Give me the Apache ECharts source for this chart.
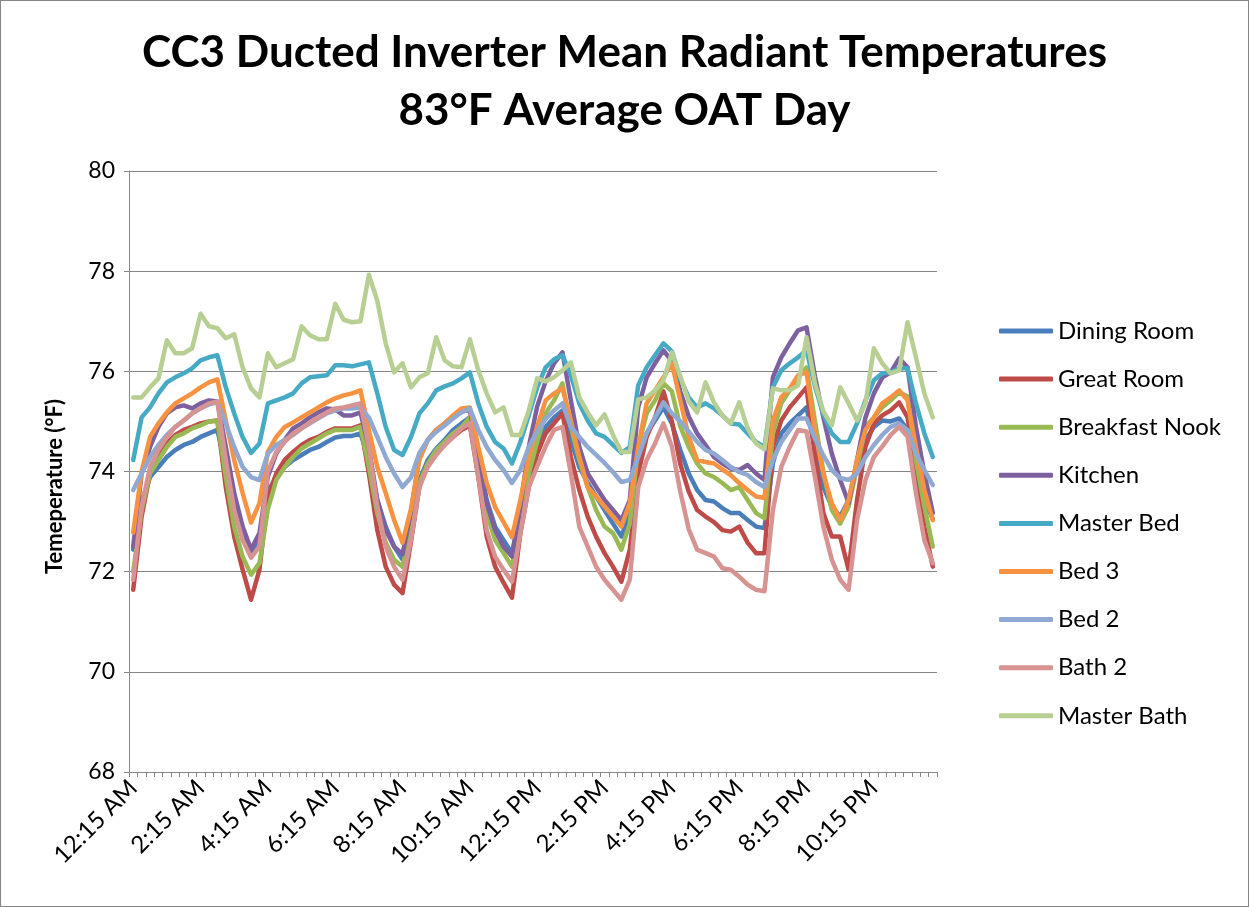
<!DOCTYPE html>
<html>
<head>
<meta charset="utf-8">
<script src="https://cdn.jsdelivr.net/npm/echarts@6/dist/echarts.min.js"></script>
<style>
  html, body { margin: 0; padding: 0; background: #fff; }
  #chart { width: 1249px; height: 907px; box-sizing: border-box; border: 1px solid #868686; }
</style>
</head>
<body>
<div id="chart"></div>
<script>
// 15 minute steps, 12:15 AM .. 12:00 AM
var times = [];
for (var m = 15; m <= 1440; m += 15) {
  var h = Math.floor(m / 60) % 24, mm = m % 60;
  var ap = h < 12 ? "AM" : "PM";
  var h12 = h % 12 === 0 ? 12 : h % 12;
  times.push(h12 + ":" + (mm < 10 ? "0" + mm : mm) + " " + ap);
}

var seriesNames = ["Dining Room", "Great Room", "Breakfast Nook", "Kitchen", "Master Bed", "Bed 3", "Bed 2", "Bath 2", "Master Bath"];

var diningRoom = [72.44,73.4,73.89,74.09,74.29,74.43,74.53,74.59,74.69,74.76,74.83,74.09,73.23,72.7,72.37,72.7,
  73.6,73.89,74.09,74.23,74.33,74.43,74.49,74.59,74.68,74.71,74.71,74.76,74.23,73.43,72.9,72.5,
  72.24,73.0,73.83,74.23,74.46,74.63,74.83,74.96,75.08,74.36,73.43,72.9,72.63,72.37,73.17,73.96,
  74.5,74.89,75.08,75.22,74.63,74.09,73.77,73.5,73.23,72.96,72.7,73.17,74.23,74.76,75.02,75.28,
  74.96,74.43,73.96,73.63,73.43,73.4,73.27,73.17,73.17,73.03,72.9,72.87,74.16,74.76,74.96,75.12,
  75.28,74.45,73.69,73.3,73.1,73.43,74.09,74.63,74.89,75.02,75.0,75.06,74.83,74.09,73.43,73.05];
var greatRoom = [71.64,73.1,73.96,74.29,74.56,74.73,74.83,74.89,74.96,75.0,75.02,73.69,72.7,72.04,71.44,72.04,
  73.5,73.96,74.23,74.39,74.53,74.63,74.69,74.79,74.86,74.86,74.86,74.92,73.96,72.83,72.1,71.74,
  71.57,72.6,73.69,74.16,74.36,74.53,74.69,74.83,74.92,73.89,72.7,72.1,71.78,71.48,72.77,73.69,
  74.35,74.76,74.96,75.16,74.29,73.63,73.1,72.7,72.37,72.1,71.8,72.44,73.96,74.69,75.08,75.6,
  75.0,74.15,73.6,73.23,73.1,72.99,72.83,72.8,72.9,72.58,72.37,72.37,74.49,75.02,75.28,75.48,
  75.68,74.3,73.17,72.7,72.7,72.04,73.43,74.49,74.96,75.12,75.22,75.38,75.08,73.96,72.9,72.1];
var breakfastNook = [72.0,73.23,73.96,74.23,74.49,74.69,74.76,74.86,74.92,75.0,75.02,73.89,72.9,72.3,71.94,72.17,
  73.25,73.83,74.09,74.29,74.46,74.56,74.66,74.76,74.83,74.83,74.83,74.89,74.09,73.17,72.58,72.24,
  72.1,72.85,73.77,74.16,74.43,74.59,74.76,74.89,75.08,74.23,73.17,72.63,72.37,72.1,73.03,73.96,
  74.6,75.16,75.42,75.76,74.89,74.23,73.69,73.23,72.9,72.77,72.44,72.96,74.49,75.16,75.42,75.76,
  75.6,74.9,74.49,74.16,73.96,73.89,73.77,73.63,73.69,73.43,73.17,73.07,74.76,75.36,75.62,75.88,
  76.08,75.0,74.0,73.23,72.96,73.3,74.09,74.89,75.08,75.28,75.42,75.58,75.5,74.23,73.3,72.5];
var kitchen = [72.5,73.96,74.49,74.89,75.16,75.28,75.32,75.26,75.36,75.42,75.4,74.49,73.57,72.9,72.44,72.77,
  73.9,74.36,74.63,74.86,74.96,75.08,75.18,75.26,75.24,75.12,75.12,75.18,74.49,73.43,72.83,72.5,
  72.35,73.2,74.29,74.63,74.83,74.96,75.08,75.22,75.22,74.29,73.37,72.83,72.5,72.3,73.3,74.49,
  75.3,75.8,76.16,76.38,75.42,74.49,73.96,73.69,73.43,73.23,73.03,73.43,75.28,75.88,76.16,76.42,
  76.2,75.6,75.1,74.76,74.53,74.29,74.16,74.06,74.03,74.13,73.96,73.83,75.88,76.28,76.56,76.82,
  76.88,75.9,75.08,74.36,73.83,73.37,74.23,75.08,75.56,75.88,75.98,76.26,76.08,74.89,73.96,73.17];
var masterBed = [74.23,75.08,75.28,75.56,75.78,75.88,75.96,76.06,76.22,76.28,76.32,75.68,75.16,74.69,74.37,74.56,
  75.36,75.42,75.48,75.56,75.76,75.88,75.9,75.92,76.12,76.12,76.1,76.14,76.18,75.56,74.89,74.43,
  74.33,74.69,75.16,75.36,75.62,75.7,75.76,75.86,75.98,75.36,74.89,74.59,74.46,74.16,74.59,75.12,
  75.68,76.08,76.24,76.32,75.92,75.36,75.02,74.76,74.69,74.53,74.37,74.49,75.72,76.08,76.32,76.56,
  76.4,75.85,75.48,75.28,75.36,75.26,75.12,74.96,74.94,74.76,74.59,74.49,75.68,76.02,76.16,76.28,
  76.42,75.7,75.14,74.76,74.59,74.59,74.96,75.42,75.82,75.96,75.98,76.06,76.06,75.36,74.76,74.29];
var bed3 = [72.78,74.0,74.69,74.96,75.18,75.36,75.46,75.56,75.68,75.78,75.84,75.02,74.23,73.57,72.98,73.37,
  74.39,74.69,74.89,74.98,75.08,75.18,75.28,75.38,75.46,75.52,75.56,75.62,74.83,74.09,73.57,73.03,
  72.58,73.25,74.23,74.63,74.83,74.96,75.12,75.26,75.28,74.49,73.77,73.29,72.99,72.69,73.43,74.29,
  74.9,75.42,75.56,75.66,75.02,74.29,73.69,73.5,73.3,73.1,72.9,73.37,74.49,75.36,75.62,75.88,
  76.16,75.42,74.7,74.23,74.19,74.16,74.04,73.93,73.77,73.63,73.5,73.47,75.02,75.48,75.66,75.92,
  75.98,74.8,73.95,73.37,73.03,73.43,74.23,74.83,75.08,75.36,75.48,75.62,75.42,74.49,73.63,73.03];
var bed2 = [73.63,73.96,74.29,74.53,74.73,74.89,75.02,75.16,75.26,75.34,75.38,74.96,74.49,74.09,73.89,73.83,
  74.36,74.53,74.63,74.73,74.86,74.96,75.06,75.16,75.22,75.26,75.26,75.28,75.08,74.69,74.29,73.96,
  73.69,73.88,74.37,74.63,74.79,74.92,75.06,75.18,75.26,74.83,74.49,74.23,74.03,73.77,74.03,74.49,
  74.8,75.05,75.22,75.36,74.89,74.69,74.49,74.33,74.17,73.99,73.79,73.83,74.29,74.76,75.08,75.38,
  75.16,75.0,74.8,74.59,74.43,74.36,74.23,74.09,73.99,73.93,73.79,73.69,74.23,74.59,74.83,75.06,
  75.06,74.66,74.32,74.03,73.87,73.83,73.96,74.29,74.53,74.73,74.89,74.96,74.83,74.36,74.03,73.73];
var bath2 = [71.84,73.3,74.09,74.43,74.69,74.89,75.02,75.16,75.26,75.36,75.4,74.23,73.23,72.63,72.28,72.5,
  74.0,74.39,74.59,74.76,74.86,74.98,75.08,75.18,75.26,75.28,75.32,75.36,74.49,73.3,72.5,72.1,
  71.84,72.63,73.69,74.09,74.33,74.53,74.69,74.86,74.96,73.89,72.83,72.3,72.04,71.8,72.77,73.69,
  74.1,74.5,74.83,74.89,73.96,72.9,72.5,72.1,71.84,71.64,71.44,71.84,73.69,74.23,74.56,74.96,
  74.5,73.6,72.85,72.44,72.37,72.3,72.07,72.04,71.9,71.74,71.64,71.61,73.23,74.09,74.49,74.83,
  74.8,73.89,72.9,72.24,71.84,71.64,73.03,73.83,74.29,74.5,74.73,74.89,74.7,73.57,72.63,72.17];
var masterBath = [75.48,75.48,75.68,75.86,76.62,76.36,76.36,76.46,77.15,76.9,76.86,76.66,76.74,76.08,75.66,75.48,
  76.36,76.08,76.16,76.24,76.9,76.72,76.64,76.64,77.35,77.03,76.98,77.0,77.93,77.41,76.56,75.98,
  76.16,75.68,75.88,75.96,76.68,76.22,76.1,76.08,76.64,76.02,75.56,75.18,75.28,74.73,74.73,75.22,
  75.86,75.8,75.88,76.02,76.18,75.48,75.18,74.92,75.14,74.73,74.39,74.39,75.44,75.48,75.62,75.82,
  76.38,75.9,75.4,75.18,75.78,75.38,75.12,74.96,75.38,74.86,74.56,74.44,75.66,75.62,75.62,75.72,
  76.68,75.76,75.2,74.92,75.68,75.36,75.02,75.36,76.46,76.16,75.96,76.02,76.98,76.28,75.56,75.08];

var seriesData = [diningRoom, greatRoom, breakfastNook, kitchen, masterBed, bed3, bed2, bath2, masterBath];
var colorArr = ["#4a7ebb", "#be4b48", "#98b954", "#7d60a0", "#46aac5", "#f69240", "#8fa9d2", "#d69391", "#b8cf93"]; //颜色

var font = "Lato, 'Open Sans', sans-serif";

var series = [];
seriesNames.forEach(function (name, idx) {
  series.push({
    name: name,
    type: "line",
    data: seriesData[idx],
    symbol: "none",
    smooth: false,
    lineStyle: { width: 4.5, color: colorArr[idx], join: "round", cap: "round" },
    itemStyle: { color: colorArr[idx] }
  });
});

var option = {
  color: colorArr,
  animation: false,
  title: {
    text: "CC3 Ducted Inverter Mean Radiant Temperatures\n83°F Average OAT Day",
    left: "center",
    top: 18,
    textStyle: { fontFamily: font, fontSize: 44, fontWeight: "bold", color: "#000", lineHeight: 58 }
  },
  legend: {
    data: seriesNames,
    orient: "vertical",
    left: 998,
    top: 318,
    padding: 0,
    icon: "roundRect",
    itemWidth: 54,
    itemHeight: 5,
    itemGap: 24.1,
    textStyle: { fontFamily: font, fontSize: 24, color: "#000", lineHeight: 24 }
  },
  grid: { left: 128, right: 311, top: 170, bottom: 134, containLabel: false },
  xAxis: {
    type: "category",
    data: times,
    boundaryGap: true,
    axisLine: { lineStyle: { color: "#868686", width: 1 } },
    axisTick: { show: true, interval: 0, length: 5, lineStyle: { color: "#868686" } },
    axisLabel: { interval: 7, rotate: 45, fontFamily: font, fontSize: 24, color: "#000", margin: 12 },
    splitLine: { show: false }
  },
  yAxis: {
    type: "value",
    min: 68,
    max: 80,
    interval: 2,
    name: "Temeperature (°F)",
    nameLocation: "middle",
    nameRotate: 90,
    nameGap: 63,
    nameTextStyle: { fontFamily: font, fontSize: 22, fontWeight: "bold", color: "#000", padding: [0, 30, 0, 0] },
    axisLine: { show: true, lineStyle: { color: "#868686", width: 1 } },
    axisTick: { show: true, length: 5, lineStyle: { color: "#868686" } },
    axisLabel: { fontFamily: font, fontSize: 23, color: "#000", margin: 14 },
    splitLine: { lineStyle: { color: "#868686", width: 1 } }
  },
  series: series
};

var chart = echarts.init(document.getElementById("chart"));
chart.setOption(option, true);
</script>
</body>
</html>
